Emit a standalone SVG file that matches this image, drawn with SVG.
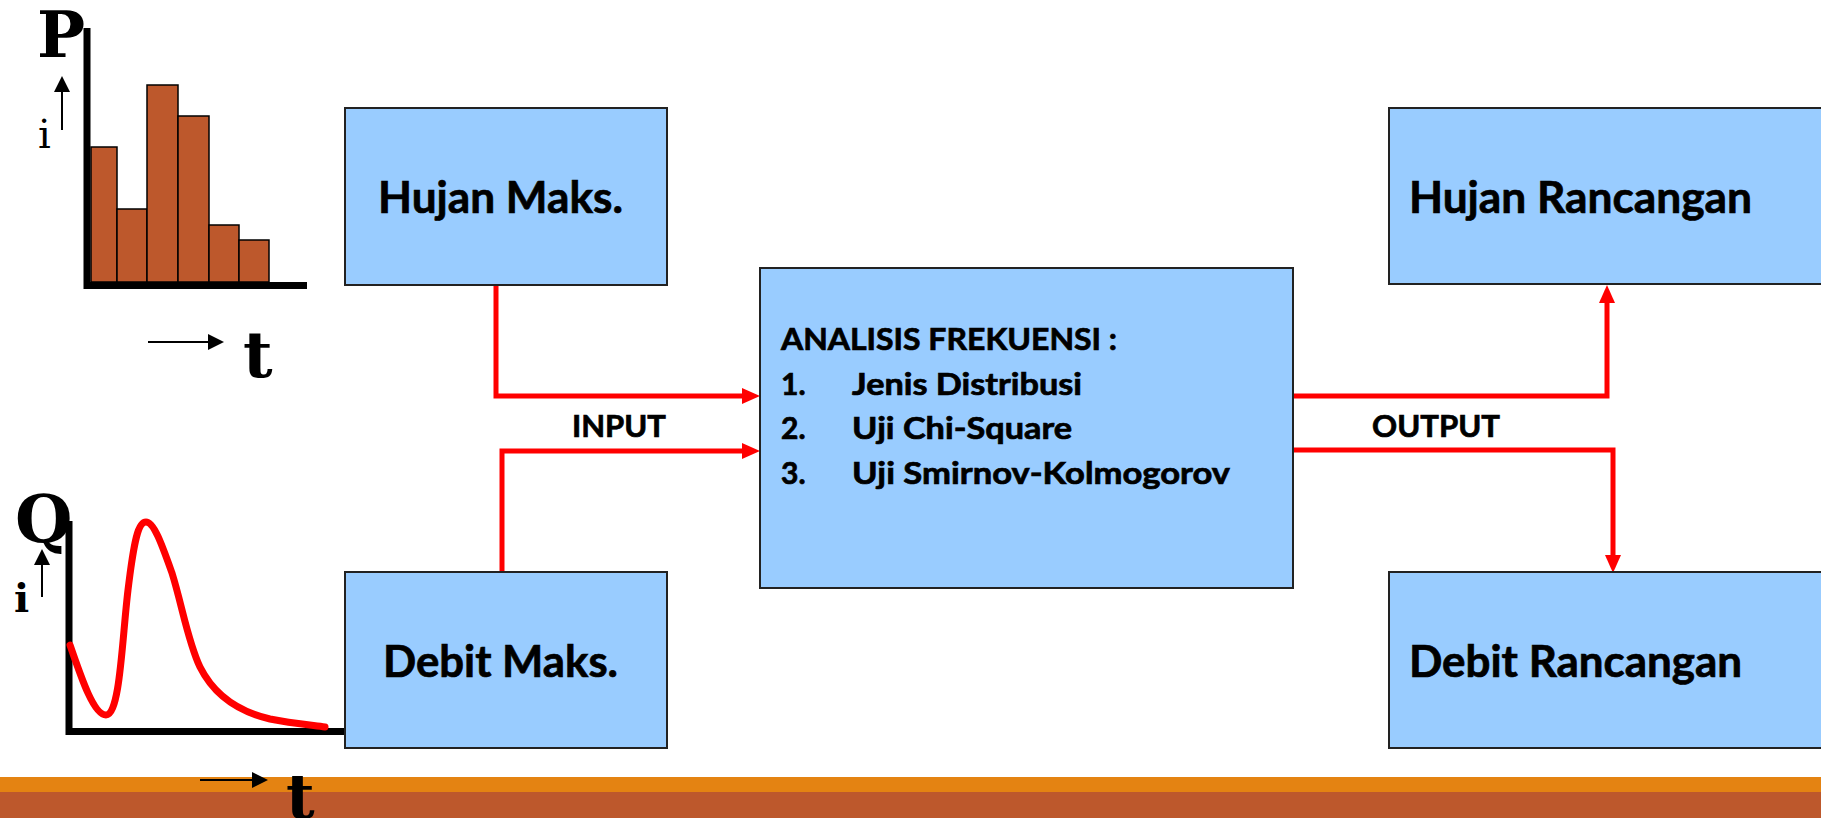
<svg xmlns="http://www.w3.org/2000/svg" width="1821" height="818" viewBox="0 0 1821 818">
<style>
.box{fill:#99CCFF;stroke:#222;stroke-width:2}
.lbl{font-family:Lato,"Open Sans","Liberation Sans",sans-serif;font-weight:bold;fill:#000;stroke:#000;stroke-width:0.7}
.big{font-size:44px}
.mid{font-size:30px}
.conn{fill:none;stroke:#FF0000;stroke-width:5;stroke-linejoin:miter}
.axis{stroke:#000;stroke-width:7;fill:none}
.bar{fill:#BD582C;stroke:#000;stroke-width:1.5}
.ser{font-family:"DejaVu Serif","Liberation Serif",serif;font-weight:bold;fill:#000}
.thin{stroke:#000;stroke-width:2;fill:none}
</style>
<defs>
<marker id="ah" viewBox="0 0 18 16" refX="0" refY="8" markerWidth="18" markerHeight="16" markerUnits="userSpaceOnUse" orient="auto">
<path d="M0,0 L18,8 L0,16 z" fill="#FF0000"/>
</marker>
<marker id="bh" viewBox="0 0 16 16" refX="0" refY="8" markerWidth="16" markerHeight="16" markerUnits="userSpaceOnUse" orient="auto">
<path d="M0,0 L16,8 L0,16 z" fill="#000"/>
</marker>
</defs>
<rect x="0" y="0" width="1821" height="818" fill="#FFFFFF"/>

<g id="chart-p">
<rect class="bar" x="91" y="147" width="26" height="135"/>
<rect class="bar" x="117" y="209" width="30" height="73"/>
<rect class="bar" x="147" y="85" width="31" height="197"/>
<rect class="bar" x="178" y="116" width="31" height="166"/>
<rect class="bar" x="209" y="225" width="30" height="57"/>
<rect class="bar" x="239" y="240" width="30" height="42"/>
<path class="axis" d="M87,28 V289"/>
<path class="axis" d="M84,285.5 H307"/>
<text class="ser" x="37" y="57" font-size="64">P</text>
<text x="38" y="148" font-family="DejaVu Serif, Liberation Serif, serif" font-size="40" fill="#000">i</text>
<path class="thin" d="M62,130 V92" marker-end="url(#bh)"/>
<path class="thin" d="M148,342 H208" marker-end="url(#bh)"/>
<text class="ser" x="243" y="377" font-size="64">t</text>
</g>

<g id="chart-q">
<path class="axis" d="M69,521 V735"/>
<path class="axis" d="M66,731.5 H346"/>
<path d="M70,645 C82,680 94,715 106,715 C120,715 122,640 128,590 C134,540 138,522 146,522 C154,522 162,545 172,573 C182,605 188,642 200,667 C215,697 240,712 270,719 C290,723 310,725 325,727" fill="none" stroke="#FF0000" stroke-width="7" stroke-linecap="round"/>
<text class="ser" x="15" y="542" font-size="66">Q</text>
<text class="ser" x="14" y="612" font-size="40">i</text>
<path class="thin" d="M42,597 V565" marker-end="url(#bh)"/>
</g>

<g id="banner">
<rect x="0" y="777" width="1821" height="15" fill="#E48312"/>
<rect x="0" y="792" width="1821" height="26" fill="#BD582C"/>
<path class="thin" d="M200,780 H252" marker-end="url(#bh)"/>
<text class="ser" x="286" y="818" font-size="62">t</text>
</g>

<g id="connectors">
<path class="conn" d="M496,285 V396 H742" marker-end="url(#ah)"/>
<path class="conn" d="M502,572 V451 H742" marker-end="url(#ah)"/>
<path class="conn" d="M1293,396 H1607 V303" marker-end="url(#ah)"/>
<path class="conn" d="M1293,450 H1613 V555" marker-end="url(#ah)"/>
<text class="lbl mid" x="572" y="437" textLength="94" lengthAdjust="spacingAndGlyphs">INPUT</text>
<text class="lbl mid" x="1372" y="437" textLength="128" lengthAdjust="spacingAndGlyphs">OUTPUT</text>
</g>

<g id="node-hujan-maks">
<rect class="box" x="345" y="108" width="322" height="177"/>
<text class="lbl big" x="378" y="213" textLength="245" lengthAdjust="spacingAndGlyphs">Hujan Maks.</text>
</g>

<g id="node-debit-maks">
<rect class="box" x="345" y="572" width="322" height="176"/>
<text class="lbl big" x="383" y="677" textLength="235" lengthAdjust="spacingAndGlyphs">Debit Maks.</text>
</g>

<g id="node-analisis">
<rect class="box" x="760" y="268" width="533" height="320"/>
<text class="lbl mid" x="781" y="350" textLength="336" lengthAdjust="spacingAndGlyphs">ANALISIS FREKUENSI :</text>
<text class="lbl mid" x="781" y="395">1.</text>
<text class="lbl mid" x="852" y="395" textLength="230" lengthAdjust="spacingAndGlyphs">Jenis Distribusi</text>
<text class="lbl mid" x="781" y="439">2.</text>
<text class="lbl mid" x="852" y="439" textLength="220" lengthAdjust="spacingAndGlyphs">Uji Chi-Square</text>
<text class="lbl mid" x="781" y="484">3.</text>
<text class="lbl mid" x="852" y="484" textLength="378" lengthAdjust="spacingAndGlyphs">Uji Smirnov-Kolmogorov</text>
</g>

<g id="node-hujan-rancangan">
<rect class="box" x="1389" y="108" width="445" height="176"/>
<text class="lbl big" x="1409" y="213" textLength="343" lengthAdjust="spacingAndGlyphs">Hujan Rancangan</text>
</g>

<g id="node-debit-rancangan">
<rect class="box" x="1389" y="572" width="445" height="176"/>
<text class="lbl big" x="1409" y="677" textLength="333" lengthAdjust="spacingAndGlyphs">Debit Rancangan</text>
</g>
</svg>
